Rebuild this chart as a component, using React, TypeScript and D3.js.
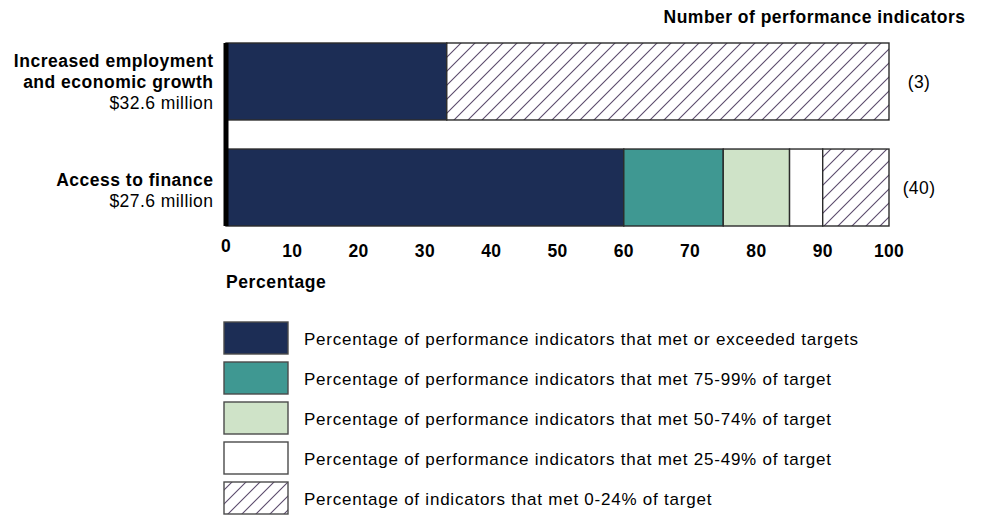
import React from "react";
import * as d3 from "d3";

const categories = ["Increased employment and economic growth", "Access to finance"];
const labelLines = [["Increased employment", "and economic growth"], ["Access to finance"]];
const funding = ["$32.6 million", "$27.6 million"];
const indicatorCounts = [3, 40];

const seriesKeys = ["met", "met75", "met50", "met25", "met0"];
const metValues = [33.3, 60];
const met75Values = [0, 15];
const met50Values = [0, 10];
const met25Values = [0, 5];
const met0Values = [66.7, 10];

const legendLabels = [
  "Percentage of performance indicators that met or exceeded targets",
  "Percentage of performance indicators that met 75-99% of target",
  "Percentage of performance indicators that met 50-74% of target",
  "Percentage of performance indicators that met 25-49% of target",
  "Percentage of indicators that met 0-24% of target",
];
const xTicks = [0, 10, 20, 30, 40, 50, 60, 70, 80, 90, 100];

const fills: Record<string, string> = {
  met: "#1c2d55",
  met75: "#3f9892",
  met50: "#cfe3c8",
  met25: "#ffffff",
  met0: "url(#hatch)",
};

const FONT = "Arial, 'Liberation Sans', sans-serif";

export default function App() {
  const width = 989;
  const height = 516;
  const x = d3.scaleLinear().domain([0, 100]).range([226, 889]);
  const y = d3.scaleBand<string>().domain(categories).range([43, 226]).paddingInner(0.274).paddingOuter(0);

  const rows = categories.map((c, i) => ({
    cat: c,
    met: metValues[i],
    met75: met75Values[i],
    met50: met50Values[i],
    met25: met25Values[i],
    met0: met0Values[i],
  }));
  const stacked = d3.stack<any>().keys(seriesKeys)(rows);

  const legendY = d3.scaleBand<string>().domain(seriesKeys).range([322, 514]).paddingInner(0.2).paddingOuter(0);

  return (
    <svg width={width} height={height} style={{ position: "absolute", left: 0, top: 0, background: "#fff" }} fontFamily={FONT}>
      <defs>
        <pattern id="hatch" patternUnits="userSpaceOnUse" width={14} height={14}>
          <rect width={14} height={14} fill="#fff" />
          <path d="M0,14 L14,0 M-3.5,3.5 L3.5,-3.5 M10.5,17.5 L17.5,10.5" stroke="#5b4a6c" strokeWidth={1.1} />
        </pattern>
      </defs>

      <text x={965.5} y={23} textAnchor="end" fontWeight="bold" fontSize={17.5} letterSpacing={0.47}>Number of performance indicators</text>

      {stacked.map((s) =>
        s.map((d, i) => {
          const w = x(d[1]) - x(d[0]);
          if (w <= 0) return null;
          return (
            <rect
              key={s.key + i}
              x={x(d[0])}
              y={y(categories[i])}
              width={w}
              height={y.bandwidth()}
              fill={fills[s.key]}
              stroke="#2b2b2b"
              strokeWidth={1.4}
            />
          );
        })
      )}

      <line x1={x(0)} x2={x(0)} y1={y.range()[0]} y2={y.range()[1]} stroke="#000" strokeWidth={5} />

      {categories.map((c, i) => {
        const lines = labelLines[i];
        const top = y(c)!;
        const total = lines.length + 1;
        const lh = 21;
        const mid = top + y.bandwidth() / 2;
        const startBase = mid - ((total - 1) * lh) / 2 + (total === 2 ? 9 : 6.5);
        return (
          <g key={c}>
            {lines.map((l, j) => (
              <text key={j} x={213.5} y={startBase + j * lh} textAnchor="end" fontWeight="bold" fontSize={17.5} letterSpacing={0.5}>{l}</text>
            ))}
            <text x={213.5} y={startBase + lines.length * lh} textAnchor="end" fontSize={17.5} letterSpacing={0.45}>{funding[i]}</text>
            <text x={919} y={mid + 6.5} textAnchor="middle" fontSize={17.5} letterSpacing={0.4}>({indicatorCounts[i]})</text>
          </g>
        );
      })}

      {xTicks.map((t) => (
        <text key={t} x={x(t)} y={t === 0 ? 252 : 257} textAnchor="middle" fontWeight="bold" fontSize={17.5} letterSpacing={0.3}>{t}</text>
      ))}
      <text x={226} y={288} fontWeight="bold" fontSize={17.5} letterSpacing={0.6}>Percentage</text>

      {seriesKeys.map((k, i) => (
        <g key={k}>
          <rect x={224} y={legendY(k)} width={64} height={legendY.bandwidth()} fill={fills[k]} stroke="#4a4a4a" strokeWidth={1.4} />
          <text x={304} y={legendY(k)! + legendY.bandwidth() / 2 + 7} fontSize={17} letterSpacing={0.77}>{legendLabels[i]}</text>
        </g>
      ))}
    </svg>
  );
}
